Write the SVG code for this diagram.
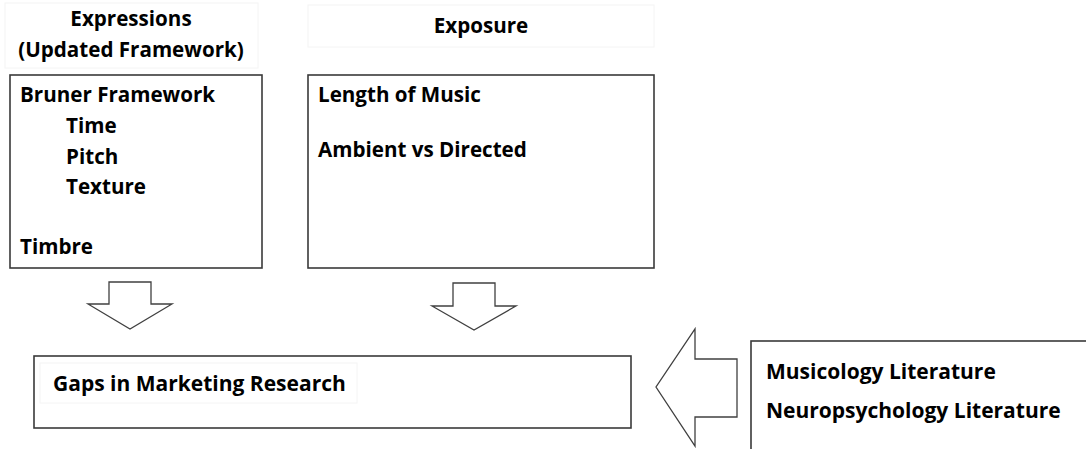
<svg xmlns="http://www.w3.org/2000/svg" width="1086" height="449" viewBox="0 0 1086 449">
<style>
  text { font-family: "Open Sans", "Noto Sans", "Liberation Sans", sans-serif; font-weight: 700; fill: #000; }
  .t { font-size: 20.6px; }
  .big { font-size: 21px; }
  .box { fill: #fff; stroke: #3a3a3a; stroke-width: 1.6; }
  .faint { fill: #fff; stroke: #f4f4f4; stroke-width: 1; }
  .arrow { fill: #fff; stroke: #404040; stroke-width: 1.3; stroke-linejoin: miter; }
</style>
<rect width="1086" height="449" fill="#fff"/>
<g id="header-expressions">
  <rect class="faint" x="5" y="3" width="253" height="65"/>
  <text class="t" x="131" y="26" text-anchor="middle">Expressions</text>
  <text class="t" x="131" y="57" text-anchor="middle">(Updated Framework)</text>
</g>
<g id="header-exposure">
  <rect class="faint" x="308" y="5" width="346" height="42"/>
  <text class="t" x="481" y="33" text-anchor="middle">Exposure</text>
</g>
<g id="expressions">
  <rect class="box" x="10" y="75" width="252" height="193"/>
  <text class="t" x="20" y="102">Bruner Framework</text>
  <text class="t" x="66" y="133">Time</text>
  <text class="t" x="66" y="164">Pitch</text>
  <text class="t" x="66" y="194">Texture</text>
  <text class="t" x="20" y="254">Timbre</text>
</g>
<g id="exposure">
  <rect class="box" x="308" y="75" width="346" height="193"/>
  <text class="t" x="318" y="102">Length of Music</text>
  <text class="t" x="318" y="157">Ambient vs Directed</text>
</g>
<g id="gaps">
  <rect class="box" x="34" y="356" width="597" height="72"/>
  <rect class="faint" x="40" y="363" width="317" height="40"/>
  <text class="big" x="53" y="391">Gaps in Marketing Research</text>
</g>
<g id="literature">
  <rect class="box" x="751" y="341" width="400" height="200"/>
  <text class="big" x="766" y="379">Musicology Literature</text>
  <text class="big" x="766" y="418">Neuropsychology Literature</text>
</g>
<g id="connectors">
  <polygon class="arrow" points="109,282 151,282 151,304 172,304 130,329 88,304 109,304"/>
  <polygon class="arrow" points="453,283 495,283 495,306 516,306 474,330 432,306 453,306"/>
  <polygon class="arrow" points="737,359 737,417 695,417 695,446 656,387 695,329 695,359"/>
</g>
</svg>
